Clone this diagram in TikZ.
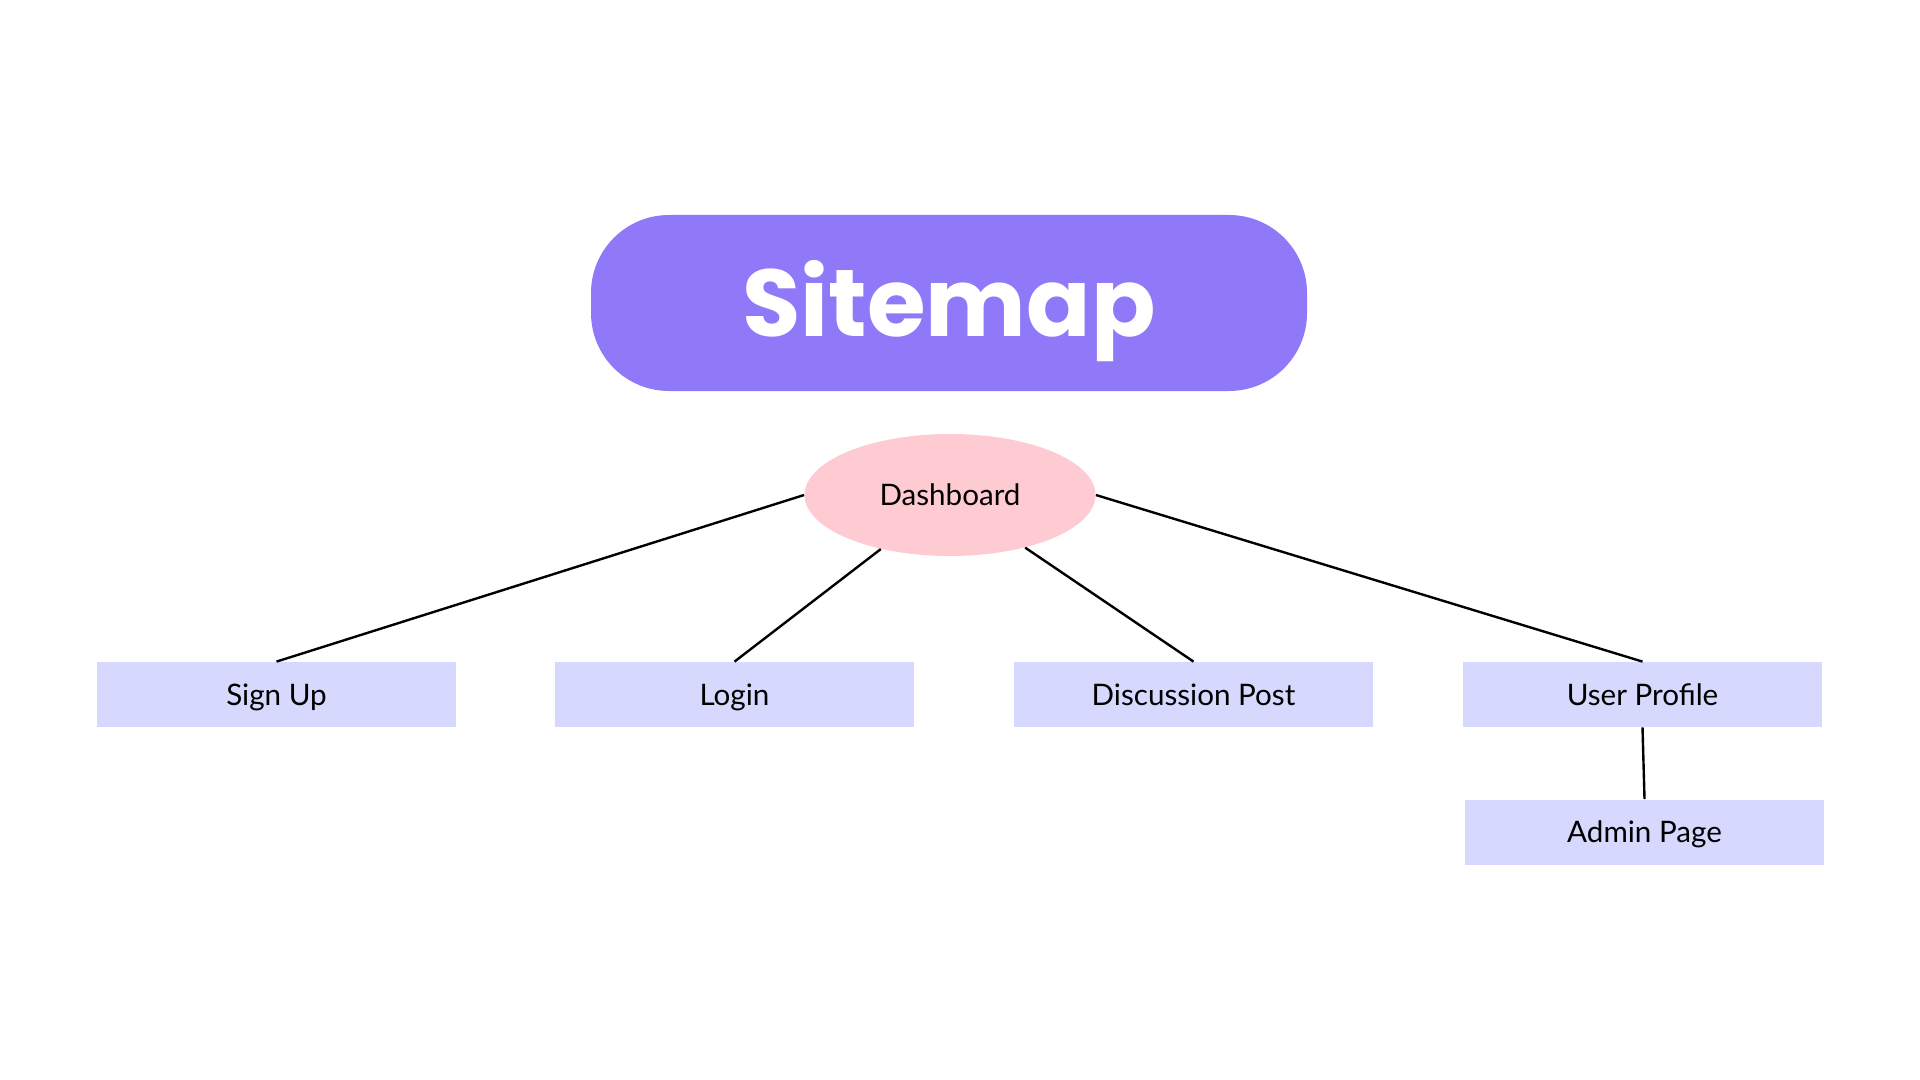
\documentclass[tikz,border=0pt]{standalone}
\usepackage{fontspec}
\setmainfont{Lato}
\newfontfamily\titlefont{Poppins}
\usetikzlibrary{positioning}
\usetikzlibrary{shapes.geometric}
\definecolor{title colour}{HTML}{8F79F8}
\definecolor{hub colour}{HTML}{FFCBD3}
\definecolor{page colour}{HTML}{D6D8FD}
\tikzset{
    % Plain links between the pages
    link/.style={draw=black, line width=1.2pt},
    % Page labels are always centred
    every node/.style={align=center},
}

\begin{document}
\begin{tikzpicture}[
    x=0.5pt, y=-0.5pt,
    label font/.style={font=\fontsize{14.8}{17}\selectfont,
        text height=10.7pt, text depth=0pt},
    title/.style={fill=title colour, text=white, rounded corners=39pt,
        minimum width=358pt, minimum height=88pt,
        text height=33pt, text depth=0pt,
        font=\titlefont\bfseries\fontsize{47.5}{55}\selectfont},
    hub/.style={ellipse, fill=hub colour, inner sep=0pt,
        minimum width=145.5pt, minimum height=61pt, label font},
    page/.style={fill=page colour, inner sep=0pt,
        minimum width=179.5pt, minimum height=32.5pt, label font},
]
\useasboundingbox (0,0) rectangle (1920,1080);

\path
    (949,303) node [title] (sitemap) {Sitemap}
    (950,495) node [hub] (dashboard) {Dashboard}
    (276.5,694.5) node [page] (sign up) {Sign Up}
    ++(458,0) node [page] (login) {Login}
    ++(459,0) node [page] (discussion) {Discussion Post}
    ++(449,0) node [page] (profile) {User Profile}
    ++(2,137.5) node [page] (admin) {Admin Page};

\draw [link] (dashboard.west) -- (sign up.north);
\draw [link] (dashboard.218) -- (login.north);
\draw [link] (dashboard.325) -- (discussion.north);
\draw [link] (dashboard.east) -- (profile.north);
\draw [link] (profile.south) -- (admin.north);

\end{tikzpicture}
\end{document}
